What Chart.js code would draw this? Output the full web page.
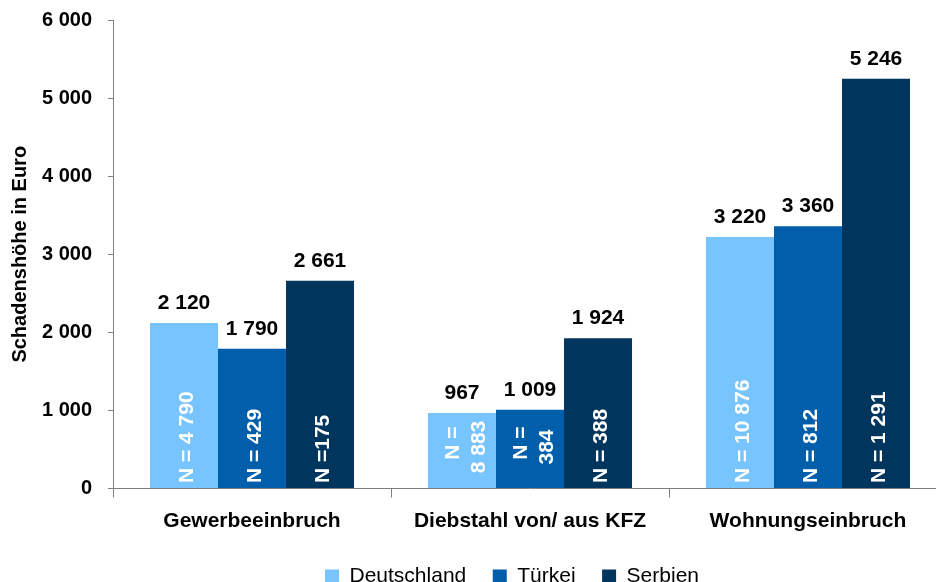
<!DOCTYPE html>
<html>
<head>
<meta charset="utf-8">
<script src="https://cdn.jsdelivr.net/npm/chart.js@4.4.1/dist/chart.umd.min.js"></script>
<style>
html, body { margin: 0; padding: 0; background: #fff; overflow: hidden; }
#wrap { position: relative; width: 936px; height: 582px; overflow: hidden; }
#chart { position: absolute; left: 0; top: 0; }
</style>
</head>
<body>
<div id="wrap"><canvas id="chart" width="1024" height="597"></canvas></div>
<script>
const categories = ['Gewerbeeinbruch', 'Diebstahl von/ aus KFZ', 'Wohnungseinbruch'];
const deutschland = [2120, 967, 3220];
const tuerkei = [1790, 1009, 3360];
const serbien = [2661, 1924, 5246];
const nDeutschland = ['N = 4 790', ['N =', '8 883'], 'N = 10 876'];
const nTuerkei = ['N = 429', ['N =', '384'], 'N = 812'];
const nSerbien = ['N =175', 'N = 388', 'N = 1 291'];

const family = '"Liberation Sans", Arial, sans-serif';
Chart.defaults.font.family = family;

function fmt(v) {
    return String(v).replace(/\B(?=(\d{3})+(?!\d))/g, ' ');
}

const barLabels = {
    id: 'barLabels',
    afterDatasetsDraw(chart) {
        const ctx = chart.ctx;
        chart.data.datasets.forEach((ds, i) => {
            chart.getDatasetMeta(i).data.forEach((bar, j) => {
                ctx.save();
                ctx.fillStyle = '#000';
                ctx.font = 'bold 21px ' + family;
                ctx.textAlign = 'center';
                ctx.textBaseline = 'alphabetic';
                ctx.fillText(fmt(ds.data[j]), bar.x, bar.y - 14);

                // N labels, rotated inside the bar
                const n = ds.nLabels[j];
                ctx.translate(bar.x, bar.base - 5);
                ctx.rotate(-Math.PI / 2);
                ctx.fillStyle = '#fff';
                ctx.textBaseline = 'middle';
                if (Array.isArray(n)) {
                    ctx.textAlign = 'center';
                    ctx.fillText(n[0], 40, -9);
                    ctx.fillText(n[1], 36, 17);
                } else {
                    ctx.textAlign = 'left';
                    ctx.fillText(n, 0, 3);
                }
                ctx.restore();
            });
        });
    }
};

new Chart(document.getElementById('chart'), {
    type: 'bar',
    data: {
        labels: categories,
        datasets: [
            { label: 'Deutschland', data: deutschland, backgroundColor: '#78c4ff', nLabels: nDeutschland },
            { label: 'Türkei', data: tuerkei, backgroundColor: '#005eab', nLabels: nTuerkei },
            { label: 'Serbien', data: serbien, backgroundColor: '#00365d', nLabels: nSerbien }
        ]
    },
    options: {
        responsive: false,
        animation: false,
        layout: { padding: { top: 20, left: 0, right: 0, bottom: 0 } },
        datasets: { bar: { categoryPercentage: 0.734, barPercentage: 1 } },
        plugins: {
            legend: {
                position: 'bottom',
                labels: {
                    boxWidth: 14,
                    boxHeight: 14,
                    padding: 26.5,
                    color: '#000',
                    font: { size: 21 }
                }
            },
            tooltip: { enabled: false }
        },
        scales: {
            x: {
                grid: { drawOnChartArea: false, offset: true, tickLength: 9, color: '#808080' },
                border: { color: '#808080' },
                ticks: { color: '#000', padding: 11, font: { size: 21, weight: 'bold' } },
                afterFit: s => { s.height = 51; }
            },
            y: {
                min: 0,
                max: 6000,
                ticks: {
                    stepSize: 1000,
                    callback: v => fmt(v),
                    padding: 16,
                    color: '#000',
                    font: { size: 20, weight: 'bold' }
                },
                grid: { drawOnChartArea: false, tickLength: 5, color: '#808080' },
                border: { color: '#808080' },
                title: {
                    display: true,
                    text: 'Schadenshöhe in Euro',
                    color: '#000',
                    font: { size: 20, weight: 'bold' },
                    padding: { top: 8, bottom: 0 }
                },
                afterFit: s => { s.width = 113; s.paddingTop = 0; s.paddingBottom = 0; }
            },
            y2: {
                position: 'right',
                grid: { display: false },
                ticks: { display: false },
                border: { display: false },
                afterFit: s => { s.width = 77; }
            }
        }
    },
    plugins: [barLabels]
});
</script>
</body>
</html>
